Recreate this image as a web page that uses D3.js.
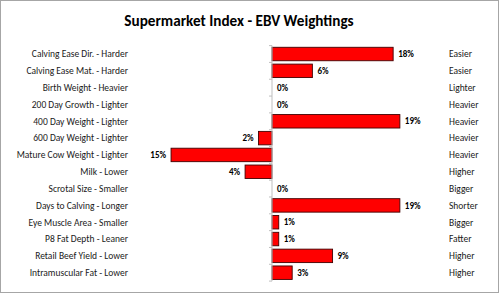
<!DOCTYPE html>
<html>
<head>
<meta charset="utf-8">
<script src="https://cdn.jsdelivr.net/npm/d3@7"></script>
<style>
  body { margin: 0; background: #fff; }
  svg { display: block; font-family: Carlito, Lato, "Liberation Sans", sans-serif; }
</style>
</head>
<body>
<div id="chart"></div>
<script>
// Données
const traits = [
    "Calving Ease Dir. - Harder", "Calving Ease Mat. - Harder", "Birth Weight - Heavier",
    "200 Day Growth - Lighter", "400 Day Weight - Lighter", "600 Day Weight - Lighter",
    "Mature Cow Weight - Lighter", "Milk - Lower", "Scrotal Size - Smaller",
    "Days to Calving - Longer", "Eye Muscle Area - Smaller", "P8 Fat Depth - Leaner",
    "Retail Beef Yield - Lower", "Intramuscular Fat - Lower"
];
const weightings = [18, 6, 0, 0, 19, -2, -15, -4, 0, 19, 1, 1, 9, 3];
const favourable = [
    "Easier", "Easier", "Lighter", "Heavier", "Heavier", "Heavier", "Heavier",
    "Higher", "Bigger", "Shorter", "Bigger", "Fatter", "Higher", "Higher"
];

const width = 500, height = 294;

const svg = d3.select("#chart").append("svg")
    .attr("width", width)
    .attr("height", height);

// Cadre
svg.append("rect")
    .attr("x", 0.5).attr("y", 0.5)
    .attr("width", width - 2).attr("height", height - 2)
    .attr("fill", "#fff")
    .attr("stroke", "#a6a6a6")
    .attr("stroke-width", 1);

// Titre
svg.append("text")
    .attr("x", 239)
    .attr("y", 26)
    .attr("text-anchor", "middle")
    .attr("font-size", "15.2px")
    .attr("font-weight", "bold")
    .attr("fill", "#000")
    .text("Supermarket Index - EBV Weightings");

// Échelles
const x = d3.scaleLinear()
    .domain([0, 19])
    .range([272, 272 + 19 * 6.73]);

const y = d3.scaleBand()
    .domain(traits)
    .range([45.6, 281.1])
    .paddingInner(0.2)
    .paddingOuter(0.1);

// Barres
svg.append("g")
    .selectAll("rect")
    .data(weightings)
    .join("rect")
    .attr("x", d => x(Math.min(0, d)))
    .attr("y", (d, i) => y(traits[i]))
    .attr("width", d => Math.abs(x(d) - x(0)))
    .attr("height", y.bandwidth())
    .attr("fill", "#ff0000")
    .attr("stroke", d => d === 0 ? "none" : "#400000")
    .attr("stroke-width", 0.9);

// Axe vertical avec graduations
const axisY = d3.scaleLinear().domain([0, traits.length]).range([45.6, 281.1]);
const axisG = svg.append("g").attr("transform", `translate(${x(0)},0)`);
axisG.append("line")
    .attr("y1", 45.6).attr("y2", 281.1)
    .attr("stroke", "#bfbfbf").attr("stroke-width", 1);
axisG.selectAll(".tick")
    .data(d3.range(traits.length + 1))
    .join("line")
    .attr("class", "tick")
    .attr("x1", -3).attr("x2", 0)
    .attr("y1", d => axisY(d)).attr("y2", d => axisY(d))
    .attr("stroke", "#bfbfbf").attr("stroke-width", 1);

const mid = name => y(name) + y.bandwidth() / 2;

// Étiquettes gauche
svg.append("g")
    .selectAll("text")
    .data(traits)
    .join("text")
    .attr("x", 128)
    .attr("y", d => mid(d))
    .attr("dy", "0.35em")
    .attr("text-anchor", "end")
    .attr("font-size", "9.5px")
    .attr("fill", "#1a1a1a")
    .text(d => d);

// Étiquettes droite
svg.append("g")
    .selectAll("text")
    .data(favourable)
    .join("text")
    .attr("x", 449)
    .attr("y", (d, i) => mid(traits[i]))
    .attr("dy", "0.35em")
    .attr("font-size", "9.5px")
    .attr("fill", "#1a1a1a")
    .text(d => d);

// Valeurs
svg.append("g")
    .selectAll("text")
    .data(weightings)
    .join("text")
    .attr("x", d => d < 0 ? x(d) - 5 : x(d) + 5)
    .attr("y", (d, i) => mid(traits[i]))
    .attr("dy", "0.35em")
    .attr("text-anchor", d => d < 0 ? "end" : "start")
    .attr("font-size", "9px")
    .attr("font-weight", "bold")
    .attr("fill", "#000")
    .text(d => Math.abs(d) + "%");
</script>
</body>
</html>
